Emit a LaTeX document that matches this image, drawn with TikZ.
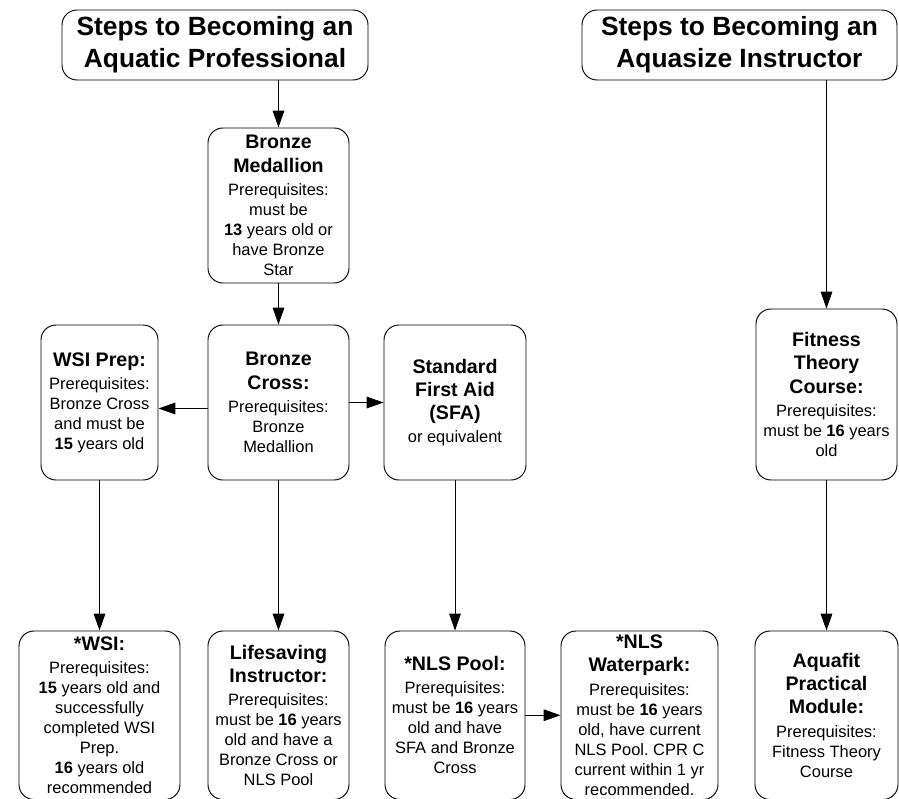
\documentclass[tikz,border=0pt]{standalone}
\usepackage{fontspec}
\setmainfont{Liberation Sans}
\usepackage{tikz}
\usetikzlibrary{arrows.meta, positioning}
\frenchspacing
\tikzstyle{boite} = [draw, rounded corners=0.5cm, line width=0.9pt, align=center, inner sep=1pt, font=\fontsize{15.6}{19}\selectfont]
\tikzstyle{titre} = [boite, font=\fontsize{25}{30.3}\selectfont\bfseries]
\tikzstyle{fleche} = [->,>={Triangle[length=16pt,width=11pt]},line width=0.9pt]
\newcommand{\entete}[1]{{\fontsize{18.6}{21.8}\selectfont\bfseries #1}}

\begin{document}
\begin{tikzpicture}
	\useasboundingbox (0,0) rectangle (29.967,-26.633);

	\node[titre, minimum width=10.2cm, minimum height=2.333cm] (T1) at (7.167,-1.5) {Steps to Becoming an\\Aquatic Professional};
	\node[titre, minimum width=10.5cm, minimum height=2.333cm] (T2) at (24.65,-1.5) {Steps to Becoming an\\Aquasize Instructor};

	\node[boite, minimum width=4.7cm, minimum height=5.167cm] (BM) at (9.283,-6.85) {\entete{Bronze}\\[3pt]\entete{Medallion}\\[3pt]Prerequisites:\\must be\\\textbf{13} years old or\\have Bronze\\Star};

	\node[boite, minimum width=3.9cm, minimum height=5.167cm] (WP) at (3.317,-13.417) {\entete{WSI Prep:}\\[3pt]Prerequisites:\\Bronze Cross\\and must be\\\textbf{15} years old};
	\node[boite, minimum width=4.7cm, minimum height=5.167cm] (BC) at (9.283,-13.417) {\entete{Bronze}\\[3pt]\entete{Cross:}\\[3pt]Prerequisites:\\Bronze\\Medallion};
	\node[boite, minimum width=4.733cm, minimum height=5.167cm] (SFA) at (15.167,-13.417) {\entete{Standard}\\[3pt]\entete{First Aid}\\[3pt]\entete{(SFA)}\\[3pt]or equivalent};
	\node[boite, minimum width=4.7cm, minimum height=5.7cm] (FT) at (27.55,-13.15) {\entete{Fitness}\\[3pt]\entete{Theory}\\[3pt]\entete{Course:}\\[3pt]Prerequisites:\\must be \textbf{16} years\\old};

	\node[boite, minimum width=5.367cm, minimum height=5.617cm] (WSI) at (3.317,-23.842) {\entete{*WSI:}\\[3pt]Prerequisites:\\\textbf{15} years old and\\successfully\\completed WSI\\Prep.\\\textbf{16} years old\\recommended};
	\node[boite, minimum width=4.7cm, minimum height=5.617cm] (LI) at (9.283,-23.842) {\entete{Lifesaving}\\[3pt]\entete{Instructor:}\\[3pt]Prerequisites:\\must be \textbf{16} years\\old and have a\\Bronze Cross or\\NLS Pool};
	\node[boite, minimum width=4.667cm, minimum height=5.617cm] (NP) at (15.167,-23.842) {\entete{*NLS Pool:}\\[3pt]Prerequisites:\\must be \textbf{16} years\\old and have\\SFA and Bronze\\Cross};
	\node[boite, minimum width=5.233cm, minimum height=5.617cm] (NW) at (21.317,-23.842) {\entete{*NLS}\\[3pt]\entete{Waterpark:}\\[3pt]Prerequisites:\\must be \textbf{16} years\\old, have current\\NLS Pool. CPR C\\current within 1 yr\\recommended.};
	\node[boite, minimum width=4.767cm, minimum height=5.617cm] (AQ) at (27.55,-23.842) {\entete{Aquafit}\\[3pt]\entete{Practical}\\[3pt]\entete{Module:}\\[3pt]Prerequisites:\\Fitness Theory\\Course};

	\draw[fleche] (T1.south -| BM.north) -- (BM.north);
	\draw[fleche] (BM) -- (BC);
	\draw[fleche] ([yshift=-0.2cm]BC.west) -- ([yshift=-0.2cm]WP.east);
	\draw[fleche] (BC) -- (SFA);
	\draw[fleche] (WP) -- (WSI);
	\draw[fleche] (BC) -- (LI);
	\draw[fleche] (SFA) -- (NP);
	\draw[fleche] (NP) -- (NW);
	\draw[fleche] (T2.south -| FT.north) -- (FT.north);
	\draw[fleche] (FT) -- (AQ);

\end{tikzpicture}
\end{document}
